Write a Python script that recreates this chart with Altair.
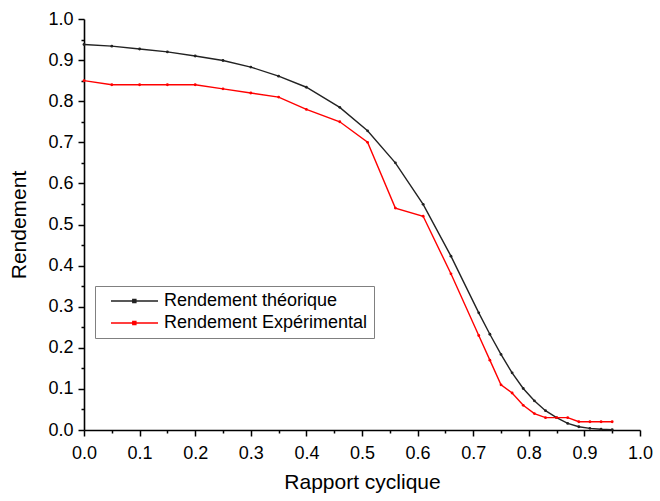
import altair as alt
import pandas as pd

x_vals = [0.0, 0.05, 0.1, 0.15, 0.2, 0.25, 0.3, 0.35, 0.4, 0.46, 0.51, 0.56, 0.61,
          0.66, 0.71, 0.73, 0.75, 0.77, 0.79, 0.81, 0.83, 0.85, 0.87, 0.89, 0.91, 0.93, 0.95]
y_theo = [0.938, 0.934, 0.927, 0.920, 0.910, 0.899, 0.883, 0.861, 0.834, 0.785, 0.728, 0.650, 0.549,
          0.423, 0.285, 0.233, 0.184, 0.139, 0.101, 0.071, 0.047, 0.030, 0.016, 0.008, 0.004, 0.002, 0.001]
y_exp = [0.85, 0.84, 0.84, 0.84, 0.84, 0.83, 0.82, 0.81, 0.78, 0.75, 0.70, 0.54, 0.52,
         0.38, 0.23, 0.17, 0.11, 0.09, 0.06, 0.04, 0.03, 0.03, 0.03, 0.02, 0.02, 0.02, 0.02]
series = ["Rendement théorique", "Rendement Expérimental"]
colors = ["#222222", "#ff0000"]
major_ticks = [round(i * 0.1, 1) for i in range(11)]
minor_ticks = [round(0.05 + i * 0.1, 2) for i in range(10)]

rows = []
for x, y in zip(x_vals, y_theo):
    rows.append({"x": x, "y": y, "s": series[0]})
for x, y in zip(x_vals, y_exp):
    rows.append({"x": x, "y": y, "s": series[1]})
df = pd.DataFrame(rows)

FONT = "Liberation Sans"
xs = alt.Scale(domain=[0, 1], nice=False, zero=False)
ys = alt.Scale(domain=[0, 1], nice=False, zero=False)

lines = alt.Chart(df).mark_line(
    strokeWidth=1.4,
    point=alt.OverlayMarkDef(filled=True, size=8, shape="circle"),
).encode(
    x=alt.X("x:Q", scale=xs, axis=alt.Axis(
        values=major_ticks, format=".1f", title="Rapport cyclique",
        tickSize=6, labelPadding=8, titlePadding=9, grid=False,
        labelFlush=False, labelOverlap=False)),
    y=alt.Y("y:Q", scale=ys, axis=alt.Axis(
        values=major_ticks, format=".1f", title="Rendement",
        tickSize=6, labelPadding=5, titlePadding=18, grid=False,
        labelFlush=False, labelOverlap=False)),
    color=alt.Color("s:N", sort=series,
                    scale=alt.Scale(domain=series, range=colors),
                    legend=alt.Legend(
                        title=None, orient="none", legendX=11, legendY=267,
                        strokeColor="#808080", padding=6, rowPadding=4,
                        symbolType="M-0.68,0H1M0.1,-0.055H0.21V0.055H0.1Z",
                        symbolSize=3136, symbolStrokeWidth=1.4, clipHeight=18,
                        labelFontSize=18, labelFont=FONT, labelColor="#000000",
                        labelOffset=5, labelLimit=400, fillColor="white")),
)

minor = alt.Chart(pd.DataFrame({"x": minor_ticks, "y": minor_ticks})).mark_point(opacity=0).encode(
    x=alt.X("x:Q", scale=xs, axis=alt.Axis(
        values=minor_ticks, labels=False, title=None, tickSize=3,
        domain=False, grid=False, orient="bottom")),
    y=alt.Y("y:Q", scale=ys, axis=alt.Axis(
        values=minor_ticks, labels=False, title=None, tickSize=3,
        domain=False, grid=False, orient="left")),
)

chart = alt.layer(lines, minor).resolve_axis(x="independent", y="independent").properties(
    width=556, height=411,
    autosize=alt.AutoSizeParams(type="none"),
    padding={"left": 84, "top": 19, "right": 20, "bottom": 71},
).configure(background="white").configure_view(stroke=None).configure_axis(
    domainColor="#000000", tickColor="#000000", domainWidth=1.6, tickWidth=1.5,
    labelFont=FONT, labelFontSize=18, labelColor="#000000",
    titleFont=FONT, titleFontSize=21, titleFontWeight="normal", titleColor="#000000",
)

chart.save("out.html", embed_options={"renderer": "svg", "actions": False})
